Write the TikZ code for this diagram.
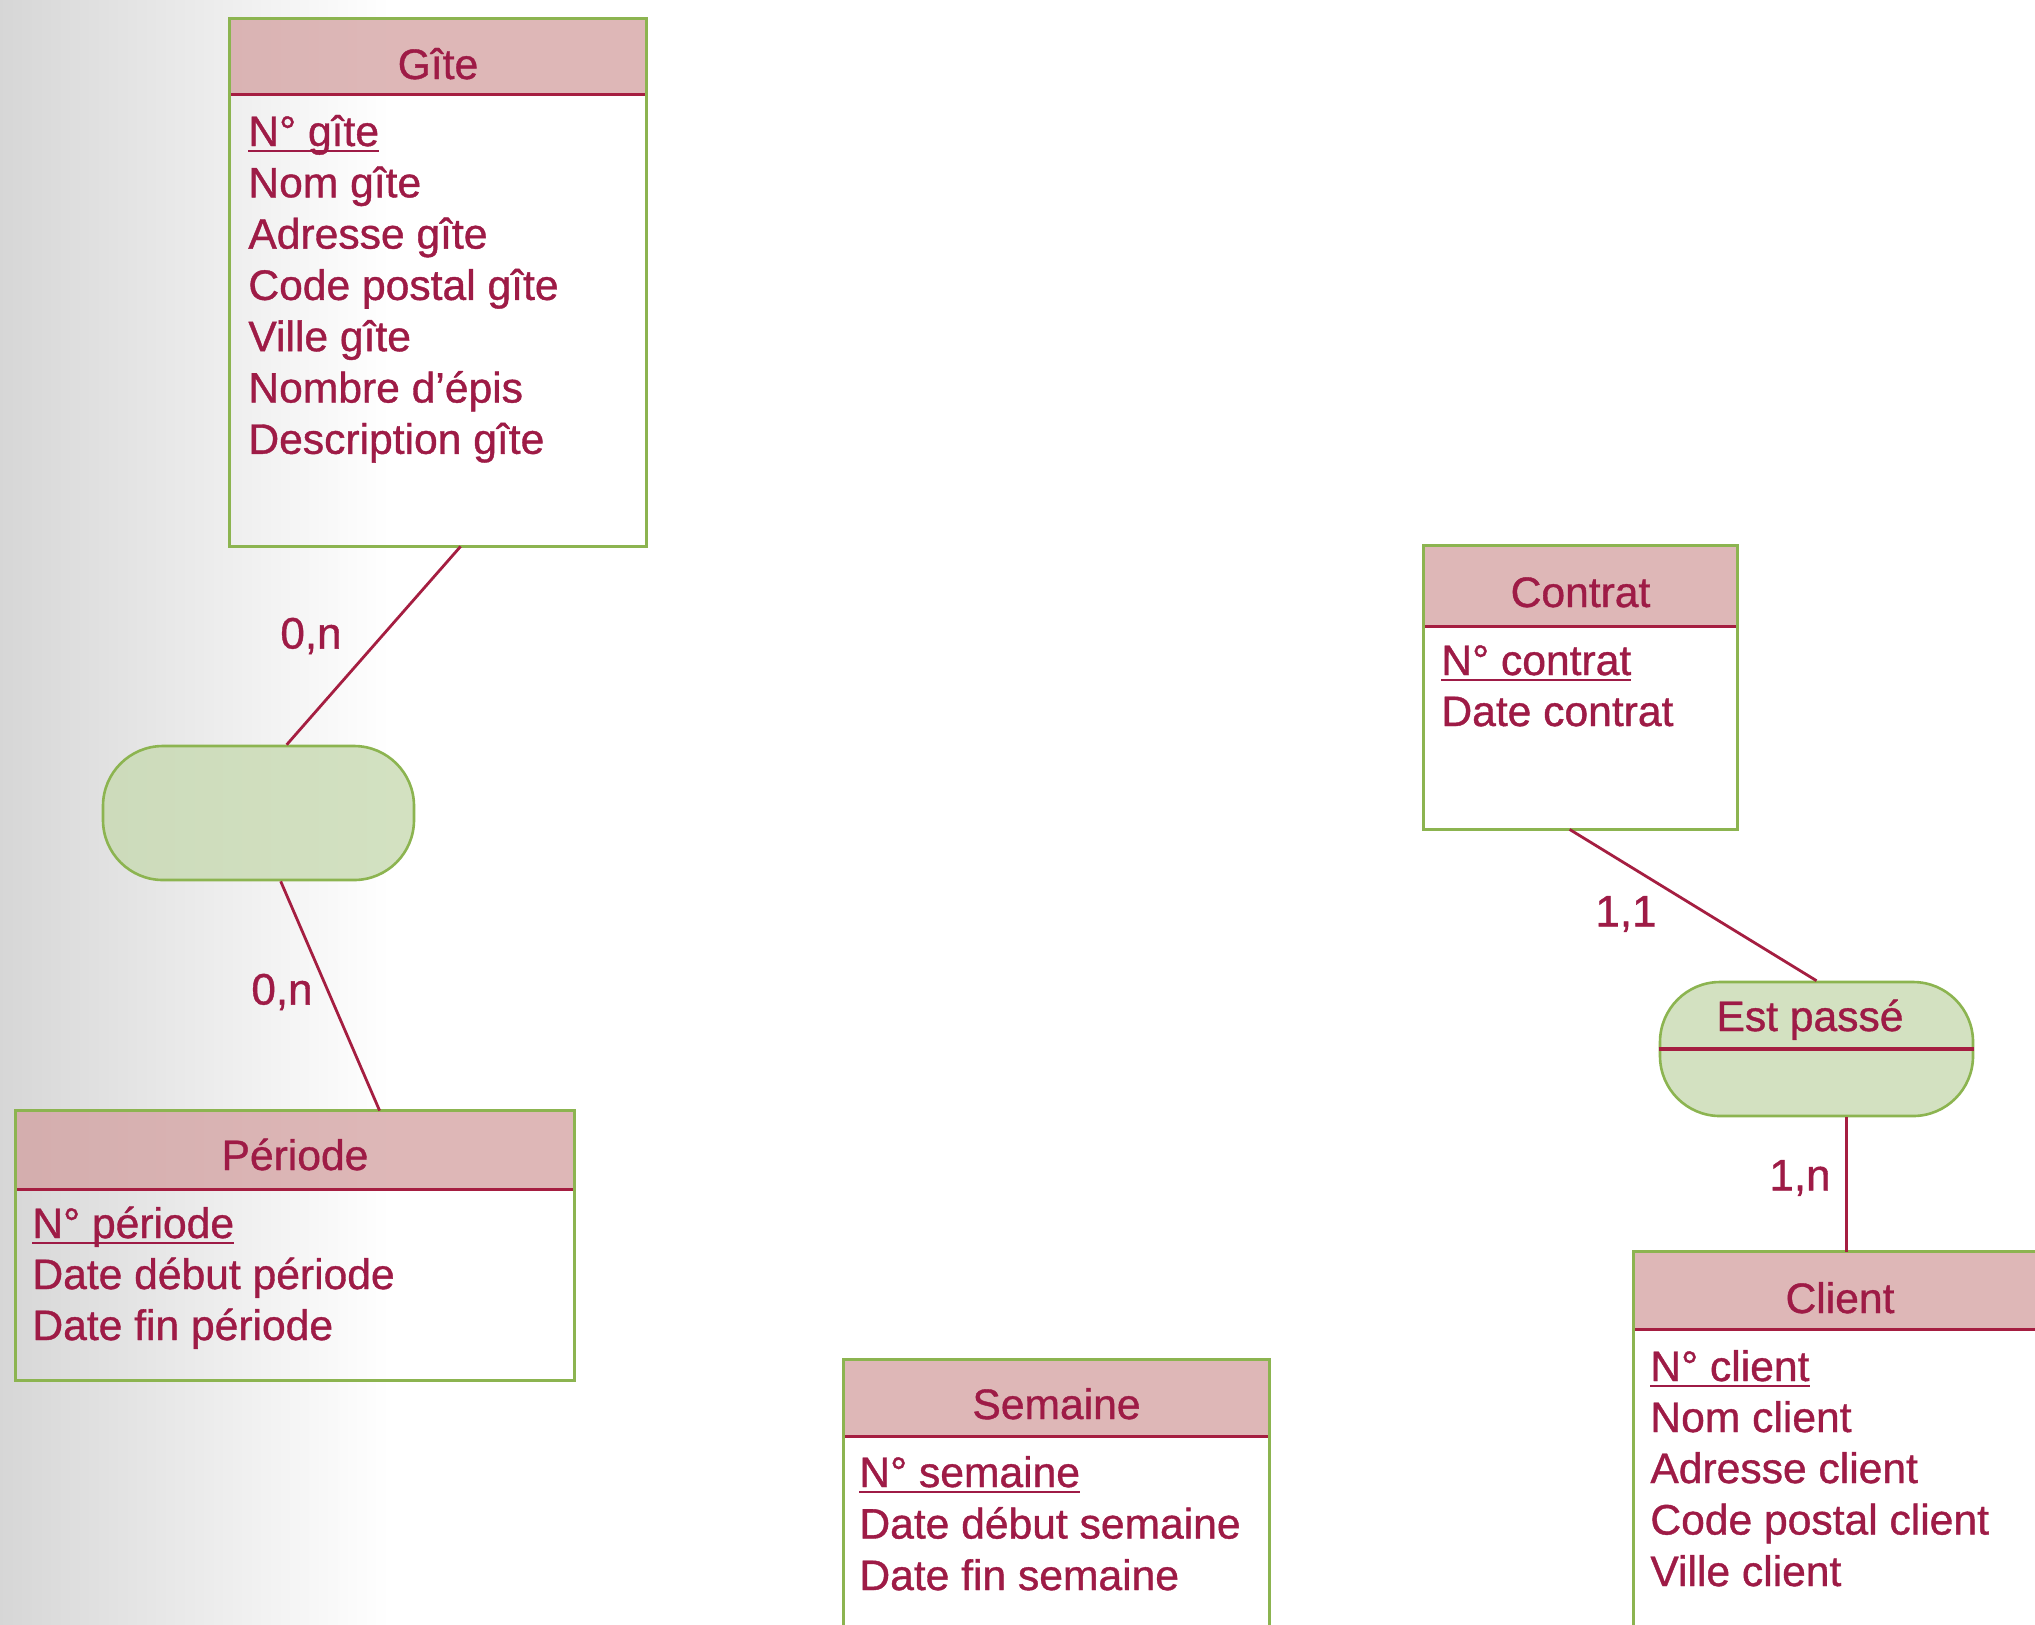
\documentclass[tikz,border=0pt]{standalone}
\usepackage{fontspec}
\setmainfont{Liberation Sans}[BoldFont={Liberation Sans}, BoldFeatures={FakeBold=0.9}]
\usetikzlibrary{calc}
\definecolor{txtred}{RGB}{158,27,70}
\definecolor{linered}{RGB}{165,30,65}
\definecolor{boxgreen}{RGB}{140,180,80}
\definecolor{headfill}{RGB}{211,160,160}
\definecolor{assocgreen}{RGB}{200,218,178}
\newcommand\myul[1]{{\setbox0\hbox{#1}\rlap{\rule[-3.2pt]{\wd0}{1.2pt}}\box0}}
\tikzset{
  entbox/.style={inner sep=0pt, rectangle},
  entborder/.style={draw=boxgreen, line width=1.3pt},
  headband/.style={fill=headfill, fill opacity=0.75},
  headline/.style={draw=linered, line width=1.8pt},
  enttitle/.style={text=txtred, font=\fontsize{21.3}{25}\selectfont\bfseries, anchor=base, inner sep=0pt},
  entattr/.style={text=txtred, font=\fontsize{21.3}{25}\selectfont\bfseries, anchor=base west, inner sep=0pt},
  card/.style={text=txtred, font=\fontsize{22}{26}\selectfont\bfseries, inner sep=0pt},
  link/.style={draw=linered, line width=1.4pt},
  assocbox/.style={draw=boxgreen, line width=1.3pt, fill=assocgreen, fill opacity=0.8, rounded corners=30pt, inner sep=0pt, rectangle},
}
\begin{document}
\begin{tikzpicture}[x=0.5pt,y=-0.5pt]
\useasboundingbox (0,0) rectangle (2035,1624);
\clip (0,0) rectangle (2035,1624);
\fill[white] (0,0) rectangle (2035,1624);
\shade[left color=black!16, right color=white] (0,0) rectangle (390,1624);

% ---------- Gite ----------
\node[entbox, minimum width=208pt, minimum height=263.5pt] (gite) at (438,282.5) {};
\fill[headband] (gite.north west) rectangle ([yshift=-38pt]gite.north east);
\draw[headline] ([yshift=-38pt]gite.north west) -- ([yshift=-38pt]gite.north east);
\draw[entborder] (gite.north west) rectangle (gite.south east);
\node[enttitle] (gite-t) at (438,79) {Gîte};
\node[entattr] (gite-a1) at (248,146) {\myul{N° gîte}};
\node[entattr] (gite-a2) at (248,197.3) {Nom gîte};
\node[entattr] (gite-a3) at (248,248.6) {Adresse gîte};
\node[entattr] (gite-a4) at (248,299.9) {Code postal gîte};
\node[entattr] (gite-a5) at (248,351.2) {Ville gîte};
\node[entattr] (gite-a6) at (248,402.5) {Nombre d’épis};
\node[entattr] (gite-a7) at (248,453.8) {Description gîte};

% ---------- association (empty) ----------
\node[assocbox, minimum width=155.5pt, minimum height=67pt] (assoc1) at (258.5,813) {};

% ---------- Periode ----------
\node[entbox, minimum width=279pt, minimum height=134.5pt] (periode) at (295,1245.5) {};
\fill[headband] (periode.north west) rectangle ([yshift=-39.5pt]periode.north east);
\draw[headline] ([yshift=-39.5pt]periode.north west) -- ([yshift=-39.5pt]periode.north east);
\draw[entborder] (periode.north west) rectangle (periode.south east);
\node[enttitle] (periode-t) at (295,1170) {Période};
\node[entattr] (periode-a1) at (32,1238) {\myul{N° période}};
\node[entattr] (periode-a2) at (32,1289) {Date début période};
\node[entattr] (periode-a3) at (32,1340) {Date fin période};

% ---------- Semaine ----------
\node[entbox, minimum width=212.5pt, minimum height=170pt] (semaine) at (1056.5,1530) {};
\fill[headband] (semaine.north west) rectangle ([yshift=-38.5pt]semaine.north east);
\draw[headline] ([yshift=-38.5pt]semaine.north west) -- ([yshift=-38.5pt]semaine.north east);
\draw[entborder] (semaine.north west) rectangle (semaine.south east);
\node[enttitle] (semaine-t) at (1056.5,1419) {Semaine};
\node[entattr] (semaine-a1) at (859,1487) {\myul{N° semaine}};
\node[entattr] (semaine-a2) at (859,1538.5) {Date début semaine};
\node[entattr] (semaine-a3) at (859,1590) {Date fin semaine};

% ---------- Contrat ----------
\node[entbox, minimum width=156.5pt, minimum height=141.5pt] (contrat) at (1580.5,687.5) {};
\fill[headband] (contrat.north west) rectangle ([yshift=-40.5pt]contrat.north east);
\draw[headline] ([yshift=-40.5pt]contrat.north west) -- ([yshift=-40.5pt]contrat.north east);
\draw[entborder] (contrat.north west) rectangle (contrat.south east);
\node[enttitle] (contrat-t) at (1580.5,607) {Contrat};
\node[entattr] (contrat-a1) at (1441,675) {\myul{N° contrat}};
\node[entattr] (contrat-a2) at (1441,726) {Date contrat};

% ---------- Est passe ----------
\node[assocbox, minimum width=156.5pt, minimum height=67pt] (estpasse) at (1816.5,1049) {};
\draw[headline] (estpasse.west) -- (estpasse.east);
\node[enttitle] (estpasse-t) at (1810,1031) {Est passé};

% ---------- Client ----------
\node[entbox, minimum width=233pt, minimum height=224pt] (client) at (1867,1476) {};
\fill[headband] (client.north west) rectangle ([yshift=-39pt]client.north east);
\draw[headline] ([yshift=-39pt]client.north west) -- ([yshift=-39pt]client.north east);
\draw[entborder] (client.north west) rectangle (client.south east);
\node[enttitle] (client-t) at (1840,1313) {Client};
\node[entattr] (client-a1) at (1650,1381) {\myul{N° client}};
\node[entattr] (client-a2) at (1650,1432) {Nom client};
\node[entattr] (client-a3) at (1650,1483) {Adresse client};
\node[entattr] (client-a4) at (1650,1534.5) {Code postal client};
\node[entattr] (client-a5) at (1650,1586) {Ville client};

% ---------- connectors ----------
\draw[link] ([xshift=115.5pt]gite.south west) -- ([xshift=92.5pt]assoc1.north west);
\draw[link] ([xshift=89.5pt]assoc1.south west) -- ([xshift=182pt]periode.north west);
\draw[link] ([xshift=73pt]contrat.south west) -- (estpasse.north);
\draw[link] ([xshift=106.5pt]client.north west) -- ([xshift=106.5pt]client.north west |- estpasse.south);

% ---------- cardinalities ----------
\node[card] (c1) at (311,636) {0,n};
\node[card] (c2) at (282,992) {0,n};
\node[card] (c3) at (1626,914) {1,1};
\node[card] (c4) at (1800,1178) {1,n};
\end{tikzpicture}
\end{document}
